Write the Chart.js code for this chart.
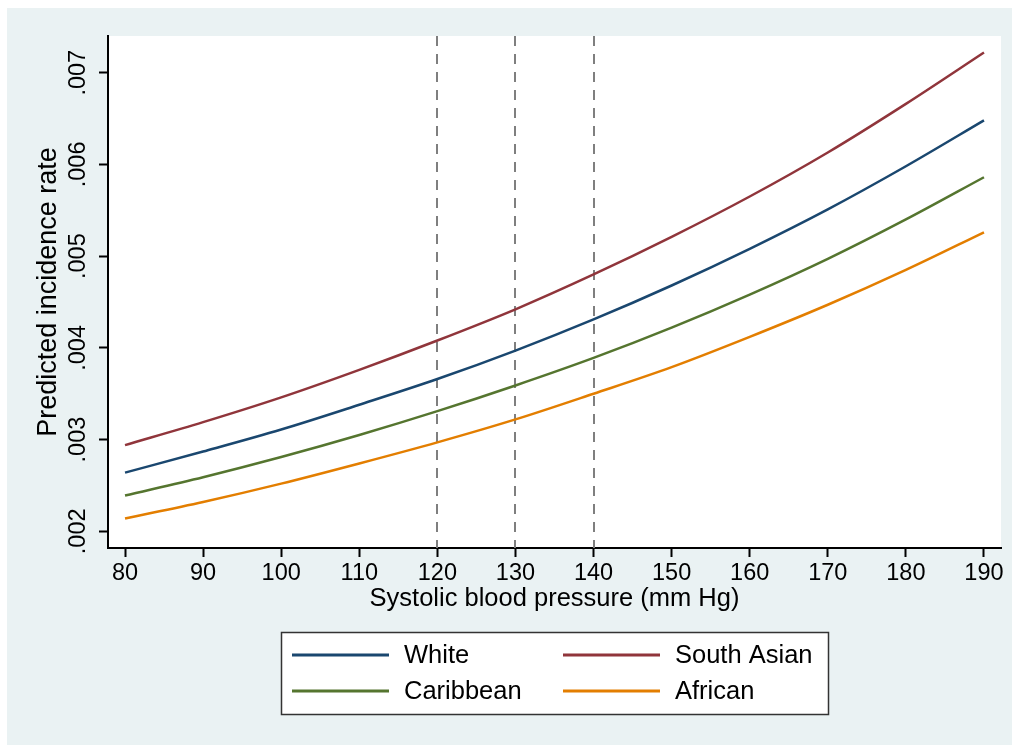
<!DOCTYPE html>
<html>
<head>
<meta charset="utf-8">
<style>
  html, body { margin: 0; padding: 0; background: #ffffff; }
  canvas { display: block; }
</style>
<script src="https://cdn.jsdelivr.net/npm/chart.js@4/dist/chart.umd.min.js"></script>
</head>
<body>
<canvas id="myChart" width="1012" height="745"></canvas>
<script>
// data
const bp = [80, 90, 100, 110, 120, 130, 140, 150, 160, 170, 180, 190];
const white = [0.00264, 0.00287, 0.00311, 0.00338, 0.00366, 0.00397, 0.00431, 0.00468, 0.00508, 0.00551, 0.00598, 0.00648];
const southAsian = [0.00294, 0.00319, 0.00346, 0.00376, 0.00408, 0.00442, 0.0048, 0.00521, 0.00565, 0.00613, 0.00666, 0.00722];
const caribbean = [0.00239, 0.00259, 0.00281, 0.00305, 0.00331, 0.00359, 0.00389, 0.00422, 0.00458, 0.00497, 0.0054, 0.00586];
const african = [0.00214, 0.00232, 0.00252, 0.00274, 0.00297, 0.00322, 0.0035, 0.00379, 0.00412, 0.00447, 0.00485, 0.00526];

const xTicks = [80, 90, 100, 110, 120, 130, 140, 150, 160, 170, 180, 190];
const yTicks = [0.002, 0.003, 0.004, 0.005, 0.006, 0.007];
const refLines = [120, 130, 140];

const FONT = "'Liberation Sans', Arial, sans-serif";

function toPoints(values) {
  return bp.map((x, i) => ({ x: x, y: values[i] }));
}

function series(label, values, color) {
  return {
    label: label,
    data: toPoints(values),
    borderColor: color,
    backgroundColor: color,
    borderWidth: 2.5,
    pointRadius: 0,
    fill: false,
    cubicInterpolationMode: "monotone",
  };
}

// background: light graph region + white plot region
const backgroundPlugin = {
  id: "bg",
  beforeDraw(chart) {
    const c = chart.ctx;
    const a = chart.chartArea;
    c.save();
    c.fillStyle = "#eaf2f3";
    c.fillRect(7, 8, chart.width - 7, chart.height - 8);
    c.fillStyle = "#ffffff";
    c.fillRect(a.left, a.top, a.right - a.left, a.bottom - a.top);
    c.restore();
  },
};

// dashed vertical reference lines
const refLinePlugin = {
  id: "refLines",
  beforeDatasetsDraw(chart) {
    const c = chart.ctx;
    const a = chart.chartArea;
    const xs = chart.scales.x;
    c.save();
    c.strokeStyle = "#7f7f7f";
    c.lineWidth = 2;
    c.setLineDash([10, 8]);
    refLines.forEach((v) => {
      const px = Math.round(xs.getPixelForValue(v));
      c.beginPath();
      c.moveTo(px, a.top);
      c.lineTo(px, a.bottom);
      c.stroke();
    });
    c.restore();
  },
};

// Stata-style boxed legend below the plot
const legendPlugin = {
  id: "boxLegend",
  afterDraw(chart) {
    const c = chart.ctx;
    const ds = chart.data.datasets;
    const colX = [292, 563];
    const rowY = [655, 691];
    c.save();
    c.fillStyle = "#ffffff";
    c.fillRect(281, 632, 548, 83);
    c.strokeStyle = "#333333";
    c.lineWidth = 1.5;
    c.strokeRect(281.5, 632.5, 547, 82);
    c.font = "25.5px " + FONT;
    c.textBaseline = "middle";
    c.textAlign = "left";
    ds.forEach((d, i) => {
      const x = colX[i % 2];
      const y = rowY[Math.floor(i / 2)];
      c.strokeStyle = d.borderColor;
      c.lineWidth = 3;
      c.beginPath();
      c.moveTo(x, y);
      c.lineTo(x + 97, y);
      c.stroke();
      c.fillStyle = "#000000";
      c.fillText(d.label, x + 112, y + 1);
    });
    c.restore();
  },
};

const ctx = document.getElementById("myChart").getContext("2d");
const myChart = new Chart(ctx, {
  type: "line",
  data: {
    datasets: [
      series("White", white, "#1a476f"),
      series("South Asian", southAsian, "#90353b"),
      series("Caribbean", caribbean, "#55752f"),
      series("African", african, "#e37e00"),
    ],
  },
  options: {
    responsive: false,
    animation: false,
    devicePixelRatio: 1,
    layout: { padding: { left: 0, top: 36, right: 11, bottom: 127 } },
    plugins: {
      legend: { display: false },
      tooltip: { enabled: false },
    },
    scales: {
      x: {
        type: "linear",
        min: 77.82,
        max: 192.18,
        afterBuildTicks: (scale) => {
          scale.ticks = xTicks.map((v) => ({ value: v }));
        },
        afterFit: (scale) => {
          scale.height = 70;
        },
        grid: {
          drawOnChartArea: false,
          drawTicks: true,
          tickLength: 9,
          tickWidth: 2,
          tickColor: "#000000",
        },
        border: { display: true, color: "#000000", width: 2 },
        ticks: {
          color: "#000000",
          padding: 2,
          maxRotation: 0,
          autoSkip: false,
          font: { family: FONT, size: 23.5 },
        },
        title: {
          display: true,
          text: "Systolic blood pressure (mm Hg)",
          color: "#000000",
          padding: { top: 0, bottom: 4 },
          font: { family: FONT, size: 25.5 },
        },
      },
      y: {
        type: "linear",
        min: 0.001818,
        max: 0.0074,
        afterBuildTicks: (scale) => {
          scale.ticks = yTicks.map((v) => ({ value: v }));
        },
        afterFit: (scale) => {
          scale.width = 108;
        },
        grid: {
          drawOnChartArea: false,
          drawTicks: true,
          tickLength: 9,
          tickWidth: 2,
          tickColor: "#000000",
        },
        border: { display: true, color: "#000000", width: 2 },
        ticks: {
          color: "#000000",
          padding: -2,
          minRotation: 90,
          maxRotation: 90,
          crossAlign: "center",
          autoSkip: false,
          font: { family: FONT, size: 23.5 },
          callback: function (value) {
            return value.toFixed(3).replace(/^0/, "");
          },
        },
        title: {
          display: true,
          text: "Predicted incidence rate",
          color: "#000000",
          padding: { top: 32, bottom: 0 },
          font: { family: FONT, size: 27 },
        },
      },
    },
  },
  plugins: [backgroundPlugin, refLinePlugin, legendPlugin],
});
</script>
</body>
</html>
